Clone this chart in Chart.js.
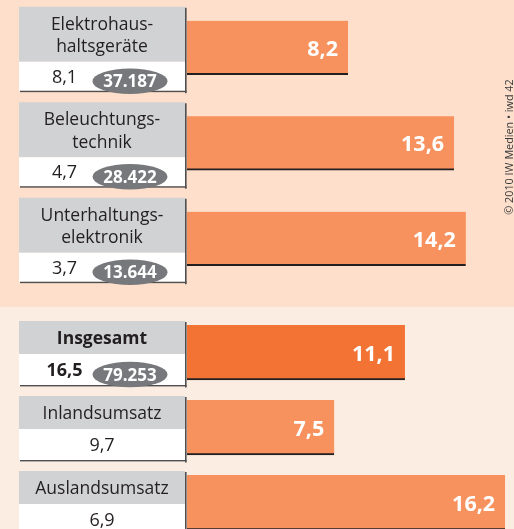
<!DOCTYPE html>
<html>
<head>
<meta charset="utf-8">
<script src="https://cdn.jsdelivr.net/npm/chart.js@4"></script>
<style>
  html, body { margin:0; padding:0; width:514px; height:529px; overflow:hidden; background:#fcede2; }
  #wrapTop { position:absolute; left:0; top:0; width:514px; height:307px; background:#fddfcb; }
  #wrapBottom { position:absolute; left:0; top:307px; width:514px; height:233px; background:#fcede2; }
  canvas { display:block; }
</style>
</head>
<body>
<div id="wrapTop"><canvas id="cTop" width="514" height="307"></canvas></div>
<div id="wrapBottom"><canvas id="cBottom" width="514" height="233"></canvas></div>
<script>
// ---- data ----
const topCategories = [['Elektrohaus-', 'haltsgeräte'], ['Beleuchtungs-', 'technik'], ['Unterhaltungs-', 'elektronik']];
const topBarValues = [8.2, 13.6, 14.2];
const topPanelValues = [8.1, 4.7, 3.7];
const topBadgeValues = [37187, 28422, 13644];

const bottomCategories = [['Insgesamt'], ['Inlandsumsatz'], ['Auslandsumsatz']];
const bottomBarValues = [11.1, 7.5, 16.2];
const bottomPanelValues = [16.5, 9.7, 6.9];
const bottomBadgeValues = [79253, null, null];
const bottomBold = [true, false, false];

const creditText = '© 2010 IW Medien • iwd 42';

// ---- helpers ----
const FONT = '"Open Sans", "Noto Sans", sans-serif';
function dec(v) { return v.toFixed(1).replace('.', ','); }
function thousands(n) { return String(n).replace(/\B(?=(\d{3})+(?!\d))/g, '.'); }

const BAR = '#f7925e';
const BAR_DARK = '#f37334';
const PANEL_GRAY = '#d1d2d4';
const SHADOW = '#4f4f51';
const TEXT = '#231f20';

function makePanelPlugin(cfg) {
  return {
    id: 'panels_' + cfg.name,
    beforeDatasetsDraw(chart) {
      const ctx = chart.ctx;
      const y = chart.scales.y;
      const left = 19, right = 185;
      const cx = (left + right) / 2;
      cfg.categories.forEach((lines, i) => {
        const c = y.getPixelForValue(i);
        const top = c + cfg.topOff, split = c + cfg.splitOff, bottom = c + cfg.botOff;
        ctx.save();
        ctx.fillStyle = PANEL_GRAY;
        ctx.fillRect(left, top, right - left, split - top);
        ctx.fillStyle = '#ffffff';
        ctx.fillRect(left, split, right - left, bottom - split);
        ctx.fillStyle = SHADOW;
        ctx.fillRect(right, top + 1, 1.6, bottom - top + 1.5);
        ctx.fillRect(left + 1, bottom, right - left + 0.6, 1.4);
        const bold = cfg.bold && cfg.bold[i];
        ctx.fillStyle = TEXT;
        ctx.textAlign = 'center';
        ctx.textBaseline = 'alphabetic';
        ctx.font = (bold ? 'bold ' : '') + '17.5px ' + FONT;
        const gmid = (top + split) / 2;
        if (lines.length === 2) {
          ctx.fillText(lines[0], cx, gmid - 4.5);
          ctx.fillText(lines[1], cx, gmid + 17.8);
        } else {
          ctx.fillText(lines[0], cx, gmid + 6.5);
        }
        const wmid = (split + bottom) / 2;
        const badge = cfg.badges[i];
        ctx.font = (bold ? 'bold ' : '') + '18px ' + FONT;
        ctx.fillText(dec(cfg.values[i]), badge ? 64.5 : cx, wmid + 6.5);
        if (badge) {
          const by = wmid + 5;
          ctx.fillStyle = '#77787b';
          ctx.beginPath();
          ctx.ellipse(130, by, 37.5, 12.8, 0, 0, Math.PI * 2);
          ctx.fill();
          ctx.fillStyle = '#ffffff';
          ctx.font = 'bold 17px ' + FONT;
          ctx.fillText(thousands(badge), 130, by + 6);
        }
        ctx.restore();
      });
    },
    afterDatasetsDraw(chart) {
      const ctx = chart.ctx;
      const meta = chart.getDatasetMeta(0);
      ctx.save();
      ctx.fillStyle = '#ffffff';
      ctx.font = 'bold 21.5px ' + FONT;
      ctx.textAlign = 'right';
      ctx.textBaseline = 'alphabetic';
      meta.data.forEach((bar, i) => {
        const v = chart.data.datasets[0].data[i];
        ctx.fillText(dec(v), bar.x - 10, bar.y + 8);
      });
      if (cfg.credit) {
        ctx.translate(513, 147);
        ctx.rotate(-Math.PI / 2);
        ctx.fillStyle = '#3a3a3c';
        ctx.font = '10.8px ' + FONT;
        ctx.textAlign = 'center';
        ctx.textBaseline = 'alphabetic';
        ctx.fillText(creditText, 0, 0);
      }
      ctx.restore();
    }
  };
}

function makeChart(id, labels, values, colors, thickness, padding, pluginCfg) {
  return new Chart(document.getElementById(id), {
    type: 'bar',
    data: {
      labels: labels.map(l => l.join(' ')),
      datasets: [{
        data: values,
        backgroundColor: colors,
        borderColor: '#231f20',
        borderWidth: { top: 0, left: 0, right: 0, bottom: 2 },
        borderSkipped: false,
        barThickness: thickness
      }]
    },
    options: {
      indexAxis: 'y',
      responsive: false,
      animation: false,
      devicePixelRatio: 1,
      layout: { padding: padding },
      plugins: { legend: { display: false }, tooltip: { enabled: false } },
      scales: {
        x: { min: 0, max: 16.5, display: false, grid: { display: false } },
        y: { display: false, grid: { display: false } }
      }
    },
    plugins: [makePanelPlugin(pluginCfg)]
  });
}

makeChart('cTop', topCategories, topBarValues, BAR, 54,
  { left: 187, right: 3, top: 0, bottom: 20.5 },
  { name: 'top', categories: topCategories, values: topPanelValues, badges: topBadgeValues,
    topOff: -41, splitOff: 14, botOff: 43, credit: true });

makeChart('cBottom', bottomCategories, bottomBarValues, [BAR_DARK, BAR, BAR], 55,
  { left: 187, right: 3, top: 8, bottom: 0 },
  { name: 'bottom', categories: bottomCategories, values: bottomPanelValues, badges: bottomBadgeValues,
    bold: bottomBold, topOff: -31.5, splitOff: 1.5, botOff: 32.5 });
</script>
</body>
</html>
